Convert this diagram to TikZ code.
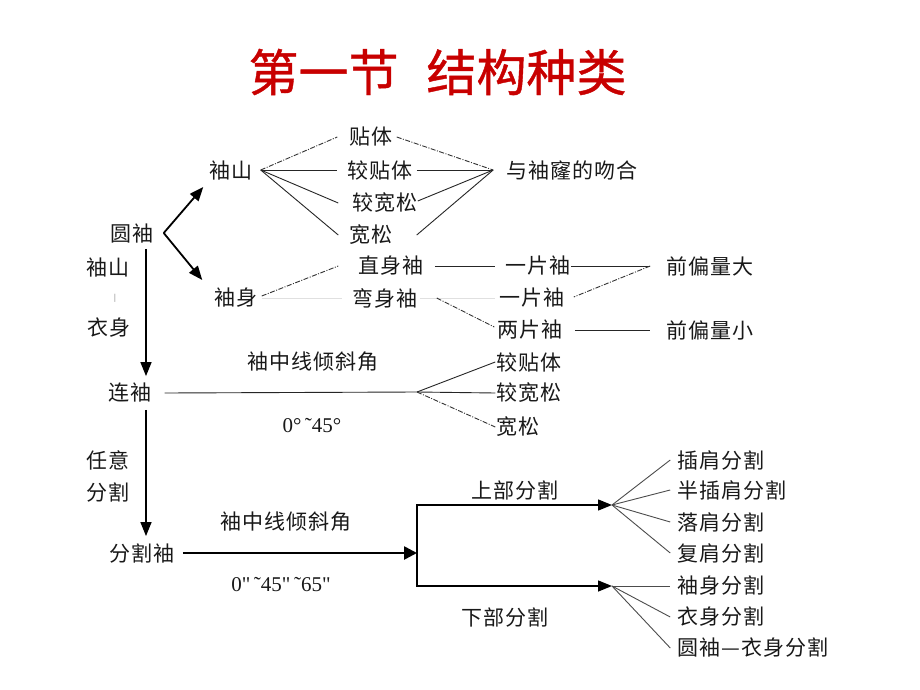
\documentclass[tikz,border=0pt]{standalone}
\usepackage{fontspec}
\newfontfamily\cjk{Noto Sans CJK SC}[LetterSpace=5]
\newfontfamily\cjktitle{Noto Sans CJK SC}[FakeBold=0.8]
\newfontfamily\numf{Liberation Serif}
\usetikzlibrary{arrows.meta}
\definecolor{titlered}{RGB}{200,0,0}
\begin{document}
\begin{tikzpicture}[x=1pt,y=-1pt,
  lbl/.style={font=\cjk\fontsize{21}{24}\selectfont, inner xsep=0pt, inner ysep=2pt, text=black!90},
  numlbl/.style={font=\numf\fontsize{21}{24}\selectfont, inner sep=0pt, text=black!90},
  solidl/.style={draw=black!85, line width=0.9pt},
  dashl/.style={draw=black!80, line width=0.9pt, dash pattern=on 5pt off 1.5pt on 1pt off 1.5pt},
  faintl/.style={draw=black!12, line width=0.6pt},
  fanl/.style={draw=black!70, line width=0.9pt},
  arr/.style={draw=black, line width=1.4pt, -{Triangle[length=14pt,width=11pt]}},
  chev/.style={draw=black, line width=1.8pt, -{Triangle[length=14pt,width=11pt]}},
  thickarr/.style={draw=black, line width=2.6pt, -{Triangle[length=13pt,width=13pt]}},
]
\fill[white] (0,0) rectangle (920,690);
\useasboundingbox (0,0) rectangle (920,690);

% title
\node[font=\cjktitle\fontsize{50}{60}\selectfont, text=titlered, inner sep=0pt] (title) at (437.5,72) {第一节\hspace{28pt}结构种类};

% upper fan
\node[lbl] (ysA) at (231,170) {袖山};
\node[lbl] (tt) at (371,137) {贴体};
\node[lbl] (jtt) at (380,170) {较贴体};
\node[lbl] (jks) at (385,203) {较宽松};
\node[lbl] (ks) at (371,235) {宽松};
\node[lbl] (wh) at (572,170) {与袖窿的吻合};

\draw[dashl] ([xshift=8pt]ysA.east) -- ([xshift=-12pt]tt.west);
\draw[solidl] ([xshift=8pt]ysA.east) -- ([xshift=-10pt]jtt.west);
\draw[solidl] ([xshift=8pt]ysA.east) -- ([xshift=-14pt]jks.west);
\draw[solidl] ([xshift=8pt]ysA.east) -- ([xshift=-11pt]ks.west);
\draw[dashl] ([xshift=4pt]tt.east) -- ([xshift=-13pt]wh.west);
\draw[solidl] ([xshift=4pt]jtt.east) -- ([xshift=-13pt]wh.west);
\draw[solidl] ([shift={(0,-2)}]jks.east) -- ([xshift=-13pt]wh.west);
\draw[solidl] ([xshift=24pt]ks.east) -- ([xshift=-13pt]wh.west);

% round sleeve
\node[lbl] (yx) at (132,233) {圆袖};
\node[lbl] (xsB) at (236,298) {袖身};
\draw[chev] ([xshift=10pt]yx.east) -- ([shift={(-6,17)}]ysA.west);
\draw[chev] ([xshift=10pt]yx.east) -- ([shift={(-12,-18)}]xsB.west);

% sleeve body
\node[lbl] (zs) at (391,266) {直身袖};
\node[lbl] (ws) at (385,298) {弯身袖};
\node[lbl] (yp1) at (538,266) {一片袖};
\node[lbl] (yp2) at (532,298) {一片袖};
\node[lbl] (lp) at (530,330) {两片袖};
\node[lbl] (qd) at (710,266) {前偏量大};
\node[lbl] (qx) at (710,330) {前偏量小};

\draw[dashl] ([shift={(4,-2)}]xsB.east) -- ([xshift=-20pt]zs.west);
\draw[faintl] ([xshift=4pt]xsB.east) -- ([xshift=-10pt]ws.west);
\draw[faintl] ([xshift=2pt]ws.east) -- ([xshift=-4pt]yp2.west);
\draw[solidl] ([xshift=11pt]zs.east) -- ([xshift=-10pt]yp1.west);
\draw[solidl] (yp1.east) -- ([xshift=-16pt]qd.west);
\draw[dashl] ([xshift=-16pt]qd.west) -- ([shift={(9,-1)}]yp2.east);
\draw[dashl] ([xshift=19pt]ws.east) -- ([shift={(-3,-3)}]lp.west);
\draw[solidl] ([xshift=12pt]lp.east) -- ([xshift=-16pt]qx.west);

% left side labels
\node[lbl] (side1) at (108,267) {袖山};
\node[font=\numf\fontsize{9}{10}\selectfont, text=black!60, inner sep=0pt] (bar) at (115,298) {|};
\node[lbl] (side2) at (109,328) {衣身};
\node[lbl] (ry) at (108,460) {任意};
\node[lbl] (fg) at (108,492) {分割};

% connected sleeve
\node[lbl] (lx) at (130,393) {连袖};
\node[lbl] (ang1) at (313,362) {袖中线倾斜角};
\node[numlbl] (deg1) at (312,426) {0°\,˜45°};
\node[lbl] (jtt2) at (529,362) {较贴体};
\node[lbl] (jks2) at (529,393) {较宽松};
\node[lbl] (ks2) at (518,427) {宽松};
\coordinate (lxA) at (417,392);
\draw[solidl] ([xshift=13pt]lx.east) -- (lxA);
\draw[solidl] (lxA) -- ([xshift=-1pt]jtt2.west);
\draw[solidl] (lxA) -- ([xshift=-1pt]jks2.west);
\draw[dashl] (lxA) -- ([xshift=-1pt]ks2.west);

% vertical trunk
\coordinate (vx) at (146,0);
\node[lbl] (fgx) at (142,553) {分割袖};
\draw[arr] ([yshift=-4pt]yx.south -| vx) -- ([yshift=5pt]lx.north -| vx);
\draw[arr] ([yshift=-5pt]lx.south -| vx) -- ([yshift=5pt]fgx.north -| vx);

% split sleeve
\node[lbl] (ang2) at (286,522) {袖中线倾斜角};
\node[numlbl] (deg2) at (281,585) {0"\,˜45"\,˜65"};
\coordinate (brM) at (417,553);
\coordinate (brT) at (417,505);
\coordinate (brB) at (417,586);
\coordinate (upA) at (612,505);
\coordinate (dnA) at (612,586);
\draw[thickarr] ([xshift=8pt]fgx.east) -- (brM);
\draw[draw=black, line width=1.4pt] (brT) -- (brB);
\draw[arr] ([xshift=-0.7pt]brT) -- (upA);
\draw[arr] ([xshift=-0.7pt]brB) -- (dnA);
\node[lbl] (sb) at (515,490) {上部分割};
\node[lbl] (xb) at (505,617) {下部分割};

\node[lbl] (c1) at (721,460) {插肩分割};
\node[lbl] (c2) at (732,490) {半插肩分割};
\node[lbl] (c3) at (721,522) {落肩分割};
\node[lbl] (c4) at (721,553) {复肩分割};
\node[lbl] (c5) at (721,586) {袖身分割};
\node[lbl] (c6) at (721,617) {衣身分割};
\node[lbl] (c7) at (753,648) {圆袖—衣身分割};
\foreach \c in {c1,c2,c3,c4}{\draw[fanl] (upA) -- ([xshift=-7pt]\c.west);}
\foreach \c in {c5,c6,c7}{\draw[fanl] (dnA) -- ([xshift=-7pt]\c.west);}
\end{tikzpicture}
\end{document}
